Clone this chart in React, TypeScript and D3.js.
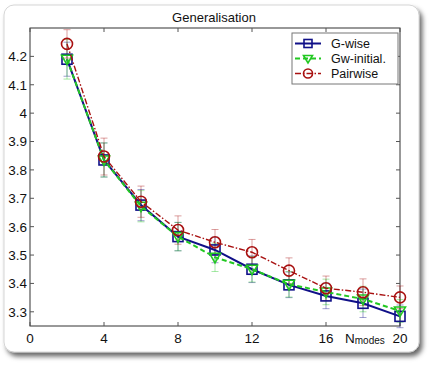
import React from 'react';
import * as d3 from 'd3';

// chart values
const nModes = [2, 4, 6, 8, 10, 12, 14, 16, 18, 20];
const gWise = [4.19, 3.835, 3.676, 3.565, 3.518, 3.45, 3.395, 3.356, 3.33, 3.284];
const gwInitial = [4.19, 3.835, 3.672, 3.565, 3.492, 3.45, 3.397, 3.37, 3.345, 3.303];
const pairwise = [4.244, 3.847, 3.688, 3.588, 3.545, 3.51, 3.445, 3.383, 3.369, 3.351];
const gWiseErr = [0.06, 0.06, 0.055, 0.05, 0.045, 0.047, 0.045, 0.045, 0.05, 0.04];
const gwInitialErr = [0.07, 0.06, 0.055, 0.05, 0.05, 0.045, 0.045, 0.045, 0.045, 0.04];
const pairwiseErr = [0.05, 0.065, 0.055, 0.05, 0.045, 0.045, 0.045, 0.043, 0.047, 0.04];
const xTicks = [0, 4, 8, 12, 16, 20];
const yTicks = [3.3, 3.4, 3.5, 3.6, 3.7, 3.8, 3.9, 4, 4.1, 4.2];
const seriesNames = ['G-wise', 'Gw-initial.', 'Pairwise'];

const W = 432;
const H = 365;
const plot = { left: 30, right: 400, top: 28, bottom: 326 };
const font = '"Liberation Sans", Arial, Helvetica, sans-serif';

const x = d3.scaleLinear().domain([0, 20]).range([plot.left, plot.right]);
const y = d3.scaleLinear().domain([3.25, 4.3]).range([plot.bottom, plot.top]);

const styles = [
  { color: '#101088', dash: undefined, width: 2, marker: 'square' },
  { color: '#22c822', dash: '5,3', width: 2, marker: 'tri' },
  { color: '#a81010', dash: '6,2,1.5,2', width: 1.4, marker: 'circle' },
];

function Marker({ kind, cx, cy, color, s = 5 }: { kind: string; cx: number; cy: number; color: string; s?: number }) {
  if (kind === 'square')
    return <rect x={cx - s} y={cy - s} width={2 * s} height={2 * s} fill="none" stroke={color} strokeWidth={1.6} />;
  if (kind === 'tri')
    return (
      <path
        d={`M${cx - s - 0.5},${cy - s + 1} L${cx + s + 0.5},${cy - s + 1} L${cx},${cy + s + 0.5} Z`}
        fill="none"
        stroke={color}
        strokeWidth={1.6}
      />
    );
  return <circle cx={cx} cy={cy} r={s + 0.5} fill="none" stroke={color} strokeWidth={1.6} />;
}

export default function App() {
  const all = [
    { vals: gWise, err: gWiseErr },
    { vals: gwInitial, err: gwInitialErr },
    { vals: pairwise, err: pairwiseErr },
  ];
  const line = d3
    .line<number>()
    .x((_, i) => x(nModes[i]))
    .y((d) => y(d));

  return (
    <svg width={W} height={H} style={{ position: 'absolute', left: 0, top: 0 }} fontFamily={font}>
      <defs>
        <filter id="shadow" x="-5%" y="-5%" width="115%" height="115%">
          <feDropShadow dx="3" dy="4" stdDeviation="2.5" floodColor="#000" floodOpacity="0.6" />
        </filter>
      </defs>
      <rect x={0} y={0} width={W} height={H} fill="#fff" />
      <rect x={4} y={5} width={415} height={347} rx={10} fill="#fff" stroke="#ccc" strokeWidth={0.8} filter="url(#shadow)" />

      {/* title */}
      <text x={214} y={22} fontSize={13} textAnchor="middle" fill="#111">Generalisation</text>

      {/* axes box */}
      <rect x={plot.left} y={plot.top} width={plot.right - plot.left} height={plot.bottom - plot.top} fill="#fff" stroke="#333" strokeWidth={1} />
      {xTicks.map((t) => (
        <g key={'x' + t}>
          <line x1={x(t)} x2={x(t)} y1={plot.bottom} y2={plot.bottom - 4} stroke="#555" />
          <line x1={x(t)} x2={x(t)} y1={plot.top} y2={plot.top + 4} stroke="#555" />
          <text x={x(t)} y={343} fontSize={13.5} textAnchor="middle" fill="#111">{t}</text>
        </g>
      ))}
      {yTicks.map((t) => (
        <g key={'y' + t}>
          <line x1={plot.left} x2={plot.left + 4} y1={y(t)} y2={y(t)} stroke="#555" />
          <line x1={plot.right} x2={plot.right - 4} y1={y(t)} y2={y(t)} stroke="#555" />
          <text x={27} y={y(t)} dy="0.36em" fontSize={13.5} textAnchor="end" fill="#111">{t}</text>
        </g>
      ))}
      <text x={345} y={343} fontSize={13.5} fill="#111">
        N<tspan fontSize={10} dy={1}>modes</tspan>
      </text>

      {/* error bars */}
      {all.map((s, si) => (
        <g key={'e' + si} stroke={styles[si].color} strokeOpacity={0.4} strokeWidth={1}>
          {s.vals.map((v, i) => {
            const cx = x(nModes[i]);
            const y1 = y(v - s.err[i]);
            const y2 = y(v + s.err[i]);
            return (
              <g key={i}>
                <line x1={cx} x2={cx} y1={y1} y2={y2} />
                <line x1={cx - 3.5} x2={cx + 3.5} y1={y1} y2={y1} />
                <line x1={cx - 3.5} x2={cx + 3.5} y1={y2} y2={y2} />
              </g>
            );
          })}
        </g>
      ))}

      {/* series */}
      {all.map((s, si) => (
        <g key={'s' + si}>
          <path d={line(s.vals) || ''} fill="none" stroke={styles[si].color} strokeWidth={styles[si].width} strokeDasharray={styles[si].dash} />
          {s.vals.map((v, i) => (
            <Marker key={i} kind={styles[si].marker} cx={x(nModes[i])} cy={y(v)} color={styles[si].color} />
          ))}
        </g>
      ))}

      {/* legend */}
      <rect x={292} y={33} width={106} height={51} fill="#fff" stroke="#777" strokeWidth={1} />
      {seriesNames.map((name, i) => {
        const ly = 43.5 + i * 15;
        return (
          <g key={name}>
            <line x1={295} x2={321} y1={ly} y2={ly} stroke={styles[i].color} strokeWidth={styles[i].width} strokeDasharray={styles[i].dash} />
            <Marker kind={styles[i].marker} cx={308} cy={ly} color={styles[i].color} s={4} />
            <text x={331} y={ly} dy="0.36em" fontSize={12.5} fill="#111">{name}</text>
          </g>
        );
      })}
    </svg>
  );
}
